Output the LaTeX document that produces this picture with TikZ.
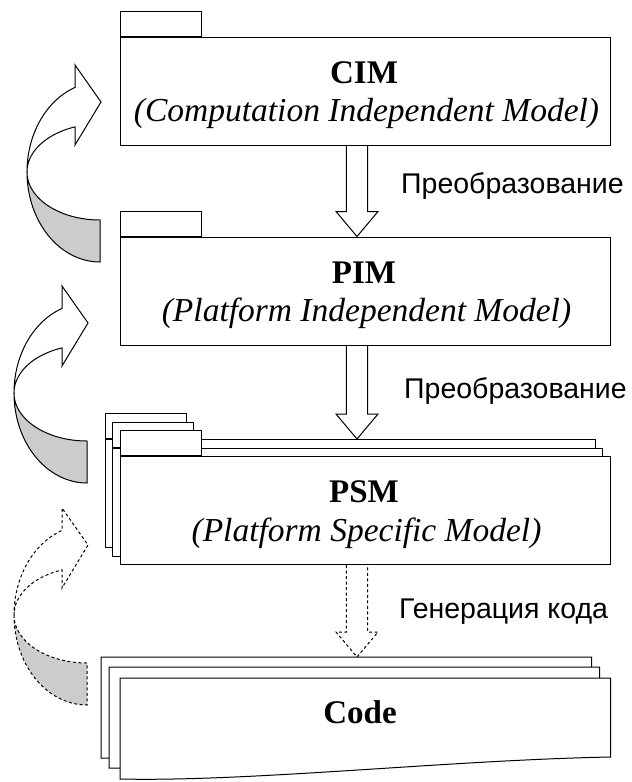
\documentclass[tikz,border=0pt]{standalone}
\usepackage{fontspec}
\setmainfont{Liberation Serif}
\newfontfamily\labelfont{Liberation Sans}
\usetikzlibrary{calc}

% vertical block arrow from coordinate #2 down to tip #3
\newcommand\blockarrow[3][]{%
  \draw[blockline,#1] ($(#2)+(-10.7,0)$) -- ($(#3)+(-10.7,-25)$) -- ($(#3)+(-21,-25)$)
    -- (#3) -- ($(#3)+(21,-25)$) -- ($(#3)+(10.7,-25)$) -- ($(#2)+(10.7,0)$);}

% twisted ribbon arrow turning back onto a model; #2,#3 = centre of its ellipse
\newcommand\ribbonarrow[3][]{%
  \filldraw[ribbon,#1,fill=ribbongray]
    plot[domain=180:270,variable=\t,samples=40] ({#2+73*cos(\t)},{#3-90*sin(\t)})
    -- ({#2},{#3+48})
    -- plot[domain=270:180,variable=\t,samples=40] ({#2+73*cos(\t)},{#3-48*sin(\t)})
    -- cycle;
  \filldraw[ribbon,#1,fill=white]
    plot[domain=180:110,variable=\t,samples=40] ({#2+73*cos(\t)},{#3-90*sin(\t)})
    -- ({#2-25},{#3-107}) -- ({#2+1},{#3-70}) -- ({#2-25},{#3-27})
    -- plot[domain=110:180,variable=\t,samples=40] ({#2+73*cos(\t)},{#3-48*sin(\t)})
    -- cycle;}

% one sheet of the code stack, shifted by #1
\newcommand\codesheet[1]{%
  \filldraw[page,shift={#1}] (120,779) -- (120,678) -- (610.7,678) -- (610.7,757)
    .. controls (450,760) and (250,782) .. (120,779) -- cycle;}

\definecolor{ribbongray}{gray}{0.80}

\begin{document}
\begin{tikzpicture}[x=1pt,y=-1pt,
  box/.style={draw, fill=white, line width=1pt, inner sep=0pt,
    minimum width=490pt, minimum height=108pt},
  tab/.style={draw, fill=white, line width=1pt, inner sep=0pt,
    minimum width=81pt, minimum height=25pt, anchor=south west},
  page/.style={draw, fill=white, line width=1pt},
  title/.style={font=\fontsize{33}{38}\selectfont\bfseries, anchor=base, inner sep=0pt},
  subtitle/.style={font=\fontsize{33.5}{38}\selectfont\itshape, anchor=base, inner sep=0pt},
  steplabel/.style={font=\labelfont\fontsize{28.5}{33}\selectfont, anchor=base west, inner sep=0pt},
  blockline/.style={line width=1pt, line join=miter},
  ribbon/.style={line width=1pt, line join=miter},
  dashedline/.style={dash pattern=on 3pt off 2.5pt}]

\useasboundingbox (0,0) rectangle (632,782);

% ribbon arrows on the left
\ribbonarrow{100}{172}
\ribbonarrow{87}{393}
\ribbonarrow[dashedline]{87}{615}

% CIM
\node[box] (cim) at (365,91) {};
\node[tab] (cimtab) at (cim.north west) {};
\node[title] (cimT) at (364,83.3) {CIM};
\node[subtitle] (cimS) at (366.5,121.7) {(Computation Independent Model)};

% PIM
\node[box] (pim) at (365,291) {};
\node[tab] (pimtab) at (pim.north west) {};
\node[title] (pimT) at (364,283.3) {PIM};
\node[subtitle] (pimS) at (366.5,321.7) {(Platform Independent Model)};

% PSM: three stacked sheets
\node[box] (psmback) at (350,493.5) {};
\node[tab] (psmbacktab) at (psmback.north west) {};
\node[box] (psmmid) at (357.5,502) {};
\node[tab] (psmmidtab) at (psmmid.north west) {};
\node[box] (psm) at (365,510.5) {};
\node[tab] (psmtab) at (psm.north west) {};
\node[title] (psmT) at (364,502.3) {PSM};
\node[subtitle] (psmS) at (366.5,541.7) {(Platform Specific Model)};

% Code: three stacked sheets with a wavy lower edge
\codesheet{(-19,-21)}
\codesheet{(-11,-11)}
\codesheet{(0,0)}
\coordinate (codetop) at (357,657);
\node[title] (codeT) at (360,723.3) {Code};

% transformation arrows
\coordinate (a1s) at ($(cim.south)+(-8,0)$);
\coordinate (a1e) at (a1s |- pim.north);
\blockarrow{a1s}{a1e}
\coordinate (a2s) at ($(pim.south)+(-8,0)$);
\coordinate (a2e) at (a2s |- psmback.north);
\blockarrow{a2s}{a2e}
\coordinate (a3s) at ($(psm.south)+(-8,0)$);
\coordinate (a3e) at (a3s |- codetop);
\blockarrow[dashedline]{a3s}{a3e}

% step labels
\node[steplabel] (l1) at (401,193.3) {Преобразование};
\node[steplabel] (l2) at (404,398.7) {Преобразование};
\node[steplabel] (l3) at (399,618) {Генерация кода};
\end{tikzpicture}
\end{document}
